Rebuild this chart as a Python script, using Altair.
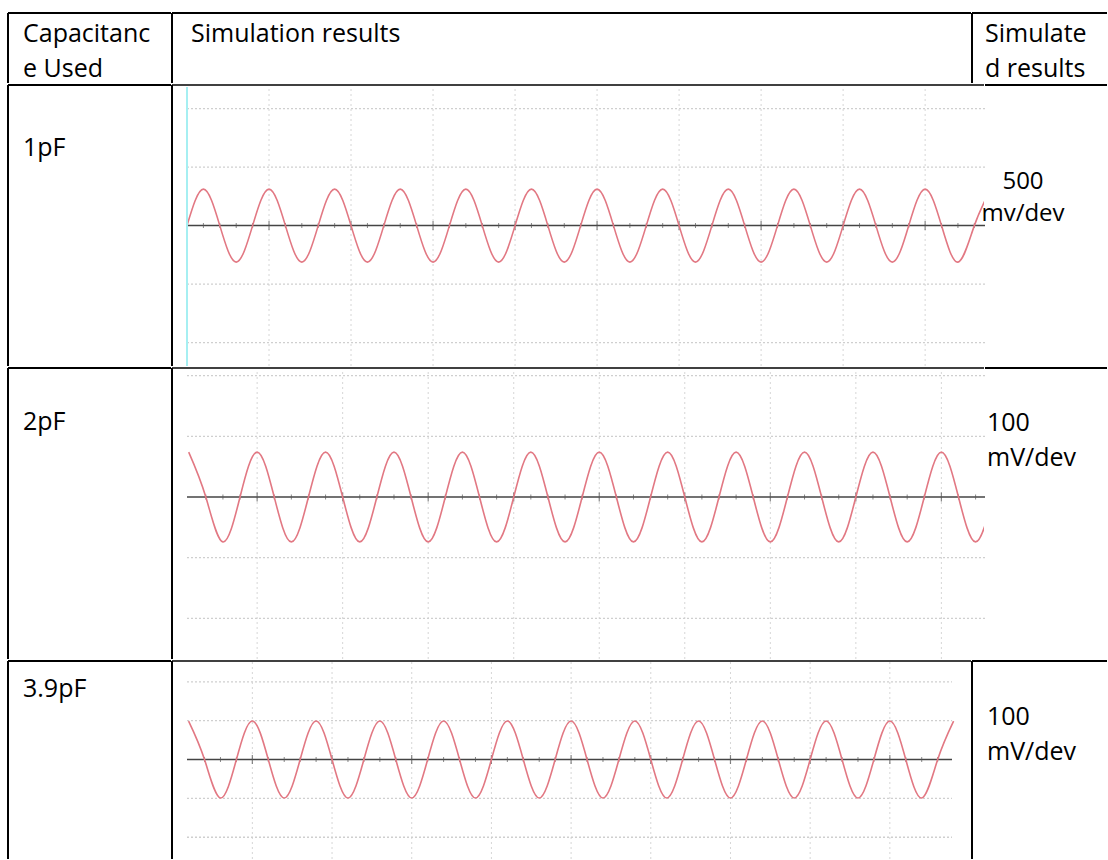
import altair as alt
import pandas as pd
import numpy as np

FONT = "Open Sans"
FS = 25

# ---- table text ----
header_labels = ["Capacitanc\ne Used", "Simulation results", "Simulate\nd results"]
capacitance_labels = ["1pF", "2pF", "3.9pF"]
scale_labels = ["500\nmv/dev", "100\nmV/dev", "100\nmV/dev"]

# ---- waveform key points (time in div, signal in mV) ----
wave1_t = [0.0, 0.2, 0.4, 0.6, 0.8, 1.0, 1.2, 1.4, 1.6, 1.8, 2.0, 2.2, 2.4, 2.6, 2.8,
           3.0, 3.2, 3.4, 3.6, 3.8, 4.0, 4.2, 4.4, 4.6, 4.8, 5.0, 5.2, 5.4, 5.6, 5.8,
           6.0, 6.2, 6.4, 6.6, 6.8, 7.0, 7.2, 7.4, 7.6, 7.8, 8.0, 8.2, 8.4, 8.6, 8.8,
           9.0, 9.2, 9.4, 9.6, 9.8]
wave1_mv = [0, 312, 0, -312, 0, 312, 0, -312, 0, 312, 0, -312, 0, 312, 0, -312,
            0, 312, 0, -312, 0, 312, 0, -312, 0, 312, 0, -312, 0, 312, 0, -312,
            0, 312, 0, -312, 0, 312, 0, -312, 0, 312, 0, -312, 0, 312, 0, -312,
            0, 312]

wave2_t = [-0.8, -0.6, -0.4, -0.2, 0.0, 0.2, 0.4, 0.6, 0.8, 1.0, 1.2, 1.4, 1.6, 1.8,
           2.0, 2.2, 2.4, 2.6, 2.8, 3.0, 3.2, 3.4, 3.6, 3.8, 4.0, 4.2, 4.4, 4.6, 4.8,
           5.0, 5.2, 5.4, 5.6, 5.8, 6.0, 6.2, 6.4, 6.6, 6.8, 7.0, 7.2, 7.4, 7.6, 7.8,
           8.0, 8.2, 8.4, 8.6]
wave2_mv = [74, 0, -74, 0, 74, 0, -74, 0, 74, 0, -74, 0, 74, 0, -74, 0,
            74, 0, -74, 0, 74, 0, -74, 0, 74, 0, -74, 0, 74, 0, -74, 0,
            74, 0, -74, 0, 74, 0, -74, 0, 74, 0, -74, 0, 74, 0, -74, 0]

wave3_t = [-0.8, -0.6, -0.4, -0.2, 0.0, 0.2, 0.4, 0.6, 0.8, 1.0, 1.2, 1.4, 1.6, 1.8,
           2.0, 2.2, 2.4, 2.6, 2.8, 3.0, 3.2, 3.4, 3.6, 3.8, 4.0, 4.2, 4.4, 4.6, 4.8,
           5.0, 5.2, 5.4, 5.6, 5.8, 6.0, 6.2, 6.4, 6.6, 6.8, 7.0, 7.2, 7.4, 7.6, 7.8,
           8.0, 8.2, 8.4, 8.6, 8.8]
wave3_mv = [99, 0, -99, 0, 99, 0, -99, 0, 99, 0, -99, 0, 99, 0, -99, 0,
            99, 0, -99, 0, 99, 0, -99, 0, 99, 0, -99, 0, 99, 0, -99, 0,
            99, 0, -99, 0, 99, 0, -99, 0, 99, 0, -99, 0, 99, 0, -99, 0, 99]

# visible screen window of each screenshot (div, mV) and mV per division
screen1 = dict(xdom=[0.0, 9.73], ydom=[-1200, 1185], mv_div=500, xgrid=[1, 2, 3, 4, 5, 6, 7, 8, 9])
screen2 = dict(xdom=[-0.82, 8.51], ydom=[-267, 211], mv_div=100, xgrid=[0, 1, 2, 3, 4, 5, 6, 7, 8])
screen3 = dict(xdom=[-0.82, 8.78], ydom=[-256, 251], mv_div=100, xgrid=[0, 1, 2, 3, 4, 5, 6, 7, 8])

WAVE_COLOR = "#e27883"
ONE = alt.Data(values=[{"k": 0}])


def borders(w, h, top_w=2, left=True):
    base = alt.Chart(ONE)
    out = [base.mark_rule(color="black", strokeWidth=top_w).encode(
        x=alt.value(1), x2=alt.value(w), y=alt.value(1))]
    if left:
        out.append(base.mark_rule(color="black", strokeWidth=2).encode(
            x=alt.value(1), y=alt.value(1), y2=alt.value(h - 1)))
    return out


def text_cell(label, w, h, x, y, align="left", lh=35, top_w=2, left=True, fs=FS):
    txt = alt.Chart(pd.DataFrame({"label": [label]})).mark_text(
        align=align, baseline="alphabetic", font=FONT, fontSize=fs, color="black",
        lineBreak="\n", lineHeight=lh
    ).encode(x=alt.value(x), y=alt.value(y), text="label:N")
    return alt.layer(txt, *borders(w, h, top_w, left)).properties(width=w, height=h)


def scope_cell(t, mv, scr, w, h, xr, yr, cyan=False):
    xdom, ydom, step = scr["xdom"], scr["ydom"], scr["mv_div"]
    xs = alt.Scale(domain=xdom, range=xr, nice=False, zero=False)
    ys = alt.Scale(domain=ydom, range=yr, nice=False, zero=False)

    vgrid = alt.Chart(pd.DataFrame({"gx": scr["xgrid"]})).mark_rule(
        color="#d6d6d6", strokeWidth=1, strokeDash=[2, 3]
    ).encode(x=alt.X("gx:Q", scale=xs, axis=None),
             y=alt.YDatum(ydom[0], scale=ys, axis=None), y2=alt.datum(ydom[1]))

    hgrid = alt.Chart(pd.DataFrame({"gy": [-2 * step, -step, step, 2 * step]})).mark_rule(
        color="#cfcfcf", strokeWidth=1.3, strokeDash=[2, 2]
    ).encode(y=alt.Y("gy:Q", scale=ys, axis=None),
             x=alt.XDatum(xdom[0], scale=xs, axis=None), x2=alt.datum(xdom[1]))

    zero = alt.Chart(ONE).mark_rule(color="#444444", strokeWidth=1.5).encode(
        y=alt.YDatum(0, scale=ys, axis=None),
        x=alt.XDatum(xdom[0], scale=xs, axis=None), x2=alt.datum(xdom[1]))

    tick_pos = np.round(np.arange(np.ceil(xdom[0] * 5) / 5, xdom[1], 0.2), 1)
    tick_pos = tick_pos[tick_pos > xdom[0] + 0.05]
    major = np.isclose(tick_pos, np.round(tick_pos))
    minor_ticks = alt.Chart(pd.DataFrame({"tx": tick_pos[~major]})).mark_tick(
        orient="vertical", color="#555555", thickness=1, size=5
    ).encode(x=alt.X("tx:Q", scale=xs, axis=None), y=alt.YDatum(0, scale=ys, axis=None))
    major_ticks = alt.Chart(pd.DataFrame({"tx": tick_pos[major]})).mark_tick(
        orient="vertical", color="#555555", thickness=1.2, size=9
    ).encode(x=alt.X("tx:Q", scale=xs, axis=None), y=alt.YDatum(0, scale=ys, axis=None))

    wave = alt.Chart(pd.DataFrame({"t": t, "mv": mv})).mark_line(
        color=WAVE_COLOR, strokeWidth=1.6, interpolate="natural", clip=True
    ).encode(x=alt.X("t:Q", scale=xs, axis=None), y=alt.Y("mv:Q", scale=ys, axis=None))

    layers = [vgrid, hgrid, zero, minor_ticks, major_ticks, wave]
    if cyan:
        layers.append(alt.Chart(ONE).mark_rule(color="#a6eff2", strokeWidth=2).encode(
            x=alt.XDatum(xdom[0], scale=xs, axis=None),
            y=alt.YDatum(ydom[0], scale=ys, axis=None), y2=alt.datum(ydom[1])))
    return alt.layer(*layers, *borders(w, h, top_w=1.5)).properties(width=w, height=h)


header = alt.hconcat(
    text_cell(header_labels[0], 164, 72, 16, 30),
    text_cell(header_labels[1], 800, 72, 20, 30),
    text_cell(header_labels[2], 136, 72, 14, 30),
    spacing=0, bounds="flush")

row1 = alt.hconcat(
    text_cell(capacitance_labels[0], 164, 283, 16, 72),
    scope_cell(wave1_t, wave1_mv, screen1, 813, 283, [16, 814], [282, 3], cyan=True),
    text_cell(scale_labels[0], 123, 283, 39, 105, align="center", lh=32, left=False, fs=24),
    spacing=0, bounds="flush")

row2 = alt.hconcat(
    text_cell(capacitance_labels[1], 164, 293, 16, 63),
    scope_cell(wave2_t, wave2_mv, screen2, 813, 293, [16, 814], [292, 2]),
    text_cell(scale_labels[1], 123, 293, 3, 64, left=False),
    spacing=0, bounds="flush")

row3 = alt.hconcat(
    text_cell(capacitance_labels[2], 164, 200, 16, 37),
    scope_cell(wave3_t, wave3_mv, screen3, 800, 200, [16, 781], [199, 2]),
    text_cell(scale_labels[2], 136, 200, 16, 65),
    spacing=0, bounds="flush")

chart = alt.vconcat(header, row1, row2, row3, spacing=0).properties(
    padding={"left": 7, "top": 12, "right": 0, "bottom": 0}
).configure_view(stroke=None)

chart.save("out.html", embed_options={"renderer": "svg", "actions": False})
